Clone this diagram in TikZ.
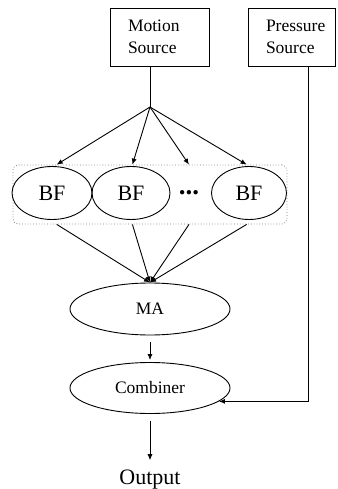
\documentclass[tikz,border=0pt]{standalone}
\usepackage{fontspec}
\setmainfont{Liberation Serif}
\usetikzlibrary{arrows.meta,shapes.geometric}
\begin{document}
\begin{tikzpicture}[x=1bp,y=-1bp,
  every node/.style={font=\fontsize{17.5bp}{22bp}\selectfont},
  srcbox/.style={draw, line width=0.9bp, rectangle, align=left, minimum height=58bp, inner xsep=18bp, inner ysep=0pt},
  ell/.style={draw, line width=0.9bp, ellipse, inner sep=0pt},
  big/.style={font=\fontsize{22bp}{26bp}\selectfont},
  conn/.style={line width=0.9bp},
  arr/.style={conn, -{Latex[length=6bp,width=5bp]}}
]
\useasboundingbox (0,0) rectangle (337,489);
% group box
\node[draw=gray, dotted, line width=0.8bp, rounded corners=5bp, minimum width=274bp, minimum height=59bp, inner sep=0pt] (grp) at (150,194.5) {};
% sources
\node[srcbox, text width=63bp] (motion) at (159.5,37) {Motion\\Source};
\node[srcbox, text width=51bp] (pressure) at (291.5,37) {Pressure\\Source};
% BF row
\node[ell, big, minimum width=80bp, minimum height=53bp] (bf1) at (52,193) {BF};
\node[ell, big, minimum width=78bp, minimum height=53bp] (bf2) at (131,193) {BF};
\node[inner sep=0pt, minimum height=53bp, font=\fontsize{27bp}{30bp}\selectfont] (dots) at (189,193) {\textbf{...}};
\node[ell, big, minimum width=75bp, minimum height=53bp] (bf3) at (249,193) {BF};
% lower chain
\node[ell, minimum width=160bp, minimum height=52bp] (ma) at (150,309) {MA};
\node[ell, minimum width=160bp, minimum height=51bp] (comb) at (150,388) {Combiner};
\node[big, inner sep=0pt, anchor=base] (out) at (150,484) {Output};
% connectors
\coordinate (j) at (150,107);
\coordinate (pc) at (308,402);
\draw[conn] (j |- motion.south) -- (j);
\draw[arr] (j) -- (bf1.80 |- grp.north);
\draw[arr] (j) -- (bf2.87 |- grp.north);
\draw[arr] (j) -- (dots.north |- grp.north);
\draw[arr] (j) -- (bf3.95 |- grp.north);
\draw[arr] (bf1.-80 |- grp.south) -- (ma.north);
\draw[arr] (bf2.-87 |- grp.south) -- (ma.north);
\draw[arr] (dots.south |- grp.south) -- (ma.north);
\draw[arr] (bf3.-95 |- grp.south) -- (ma.north);
\draw[arr, shorten <=7bp, shorten >=2bp] (ma) -- (comb);
\draw[arr, shorten <=7bp, shorten >=9bp] (comb) -- (out);
\draw[arr] (pc |- pressure.south) -- (pc |- comb.-11.8) -- (comb.-11.8);
\end{tikzpicture}
\end{document}
